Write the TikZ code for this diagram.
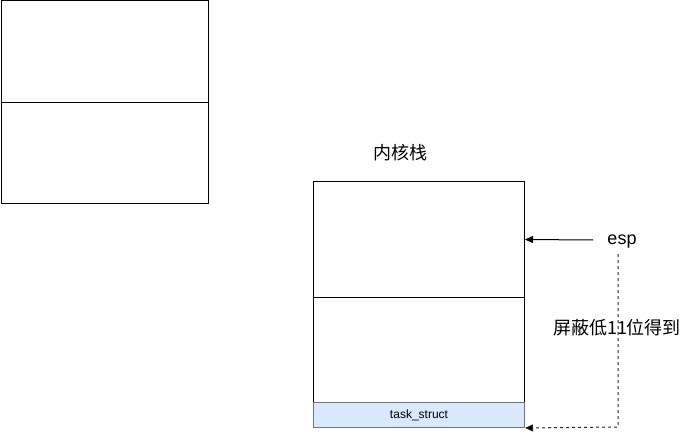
\documentclass[tikz,border=0pt]{standalone}
\usepackage{fontspec}
\setmainfont{Liberation Sans}
\newfontfamily\cjk{Noto Sans CJK SC}
\usetikzlibrary{arrows.meta}
\definecolor{tsfill}{HTML}{DAE8FC}
\definecolor{tsline}{HTML}{6F7385}
\begin{document}
\begin{tikzpicture}[x=1pt,y=-1pt,
  box/.style={draw=black,line width=1pt,inner sep=0pt},
  lbl/.style={inner sep=0pt,font=\fontsize{18}{20}\selectfont},
  cjklbl/.style={inner sep=0pt,font=\cjk\fontsize{18}{20}\selectfont},
  tip/.style={-{Triangle[length=8pt,width=7pt,fill=black]}}]
\useasboundingbox (0,0) rectangle (681,436);
% left boxes
\node[box,minimum width=207.5pt,minimum height=101.5pt,anchor=north west] (l1) at (0.5,0.5) {};
\node[box,minimum width=207.5pt,minimum height=101pt,anchor=north west] (l2) at (0.5,102) {};
% kernel stack
\node[box,minimum width=211pt,minimum height=116pt,anchor=north west] (s1) at (313,181) {};
\node[box,minimum width=211pt,minimum height=105pt,anchor=north west] (s2) at (313,297) {};
\node[draw=tsline,fill=tsfill,line width=1pt,inner sep=0pt,minimum width=211pt,minimum height=25pt,anchor=north west,font=\fontsize{12}{14}\selectfont] (ts) at (313,402) {task\_struct};
\node[cjklbl] (title) at (400,153) {内核栈};
\node[lbl] (esp) at (622,242) {esp};
\coordinate (espstart) at (593,240);
\coordinate (dstart) at (618,254);
\coordinate (dcorner) at (618,427);
\draw[tip,line width=1pt] (espstart) -- (s1.east);
\draw[tip,line width=1pt,dash pattern=on 3pt off 3pt,draw=black!85] (dstart) -- (dcorner) -- (ts.south east);
\node[cjklbl] (mask) at (617,328) {屏蔽低11位得到};
\end{tikzpicture}
\end{document}
